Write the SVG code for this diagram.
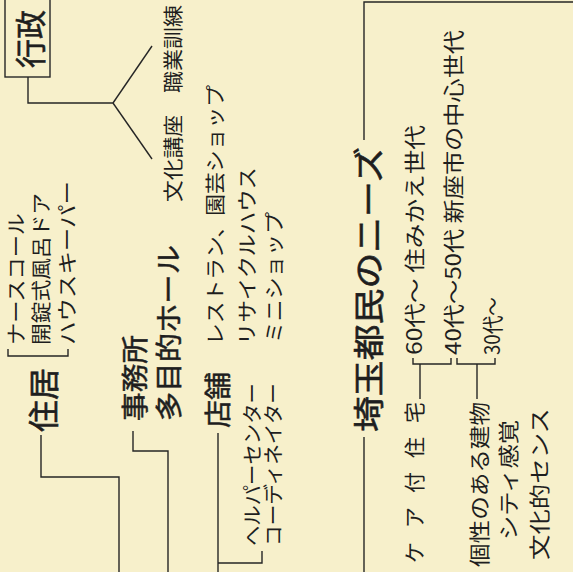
<svg xmlns="http://www.w3.org/2000/svg" width="573" height="572" viewBox="0 0 573 572">
<style>
text{font-family:"Noto Sans CJK JP","Noto Sans CJK SC",sans-serif;fill:#1e1e1e;dominant-baseline:central}
.s{font-size:20px}
.m{font-size:21px}
.b{font-size:27px;stroke:#1e1e1e;stroke-width:0.5}
.xl{font-size:31px;stroke:#1e1e1e;stroke-width:0.6}
.ln{fill:none;stroke:#262626;stroke-width:1.4}
</style>
<rect x="0" y="0" width="573" height="572" fill="#f7f0cb"/>
<g id="connectors" class="ln">
<path d="M28,77 V103 H113"/>
<path d="M113,103 L152,46"/>
<path d="M113,103 L152,159"/>
<path d="M8,349 V356 H68 V349"/>
<path d="M41,435 V477 H119 V572"/>
<path d="M133,431 V451 H168 V572"/>
<path d="M218,433 V572"/>
<path d="M218,563 H262 V551"/>
<path d="M364,140 V2 H573"/>
<path d="M364,437 V572"/>
<path d="M413,358 V364 H451 V358"/>
<path d="M420,364 V399"/>
<path d="M457,358 V364 H495 V358"/>
<path d="M477,364 V399"/>
</g>
<g id="gyousei">
<rect class="ln" x="5" y="-2" width="45" height="79"/>
<text class="xl" transform="translate(28,68) rotate(-90)" textLength="58" lengthAdjust="spacingAndGlyphs">行政</text>
</g>
<g id="shokugyou"><text class="s" transform="translate(172,93) rotate(-90)" textLength="88" lengthAdjust="spacingAndGlyphs">職業訓練</text></g>
<g id="bunka"><text class="s" transform="translate(172,202) rotate(-90)" textLength="87" lengthAdjust="spacingAndGlyphs">文化講座</text></g>
<g id="jukyo-items">
<text class="s" transform="translate(15,345) rotate(-90)" textLength="132" lengthAdjust="spacingAndGlyphs">ナースコール</text>
<text class="s" transform="translate(40,345) rotate(-90)" textLength="152" lengthAdjust="spacingAndGlyphs">開錠式風呂ドア</text>
<text class="s" transform="translate(66,345) rotate(-90)" textLength="164" lengthAdjust="spacingAndGlyphs">ハウスキーパー</text>
</g>
<g id="jukyo"><text class="xl" transform="translate(41,432) rotate(-90)" textLength="64" lengthAdjust="spacingAndGlyphs">住居</text></g>
<g id="jimusho"><text class="b" transform="translate(133,421) rotate(-90)" textLength="86" lengthAdjust="spacingAndGlyphs">事務所</text></g>
<g id="hall"><text class="b" transform="translate(167,421) rotate(-90)" textLength="176" lengthAdjust="spacingAndGlyphs">多目的ホール</text></g>
<g id="tenpo">
<text class="b" transform="translate(216,428) rotate(-90)" textLength="56" lengthAdjust="spacingAndGlyphs">店舗</text>
<text class="s" transform="translate(214,345) rotate(-90)" textLength="260" lengthAdjust="spacingAndGlyphs">レストラン、園芸ショップ</text>
<text class="s" transform="translate(246,345) rotate(-90)" textLength="178" lengthAdjust="spacingAndGlyphs">リサイクルハウス</text>
<text class="s" transform="translate(273,343) rotate(-90)" textLength="131" lengthAdjust="spacingAndGlyphs">ミニショップ</text>
</g>
<g id="helper">
<text class="s" transform="translate(251,546) rotate(-90)" textLength="163" lengthAdjust="spacingAndGlyphs">ヘルパーセンター</text>
<text class="s" transform="translate(272,546) rotate(-90)" textLength="163" lengthAdjust="spacingAndGlyphs">コーディネイター</text>
</g>
<g id="needs"><text class="xl" transform="translate(366,432) rotate(-90)" textLength="285" lengthAdjust="spacingAndGlyphs">埼玉都民のニーズ</text></g>
<g id="age60"><text class="m" transform="translate(413,355) rotate(-90)" textLength="230" lengthAdjust="spacingAndGlyphs">60代〜 住みかえ世代</text></g>
<g id="age40"><text class="m" transform="translate(452,355) rotate(-90)" textLength="325" lengthAdjust="spacingAndGlyphs">40代〜50代 新座市の中心世代</text></g>
<g id="age30"><text class="m" transform="translate(491,355) rotate(-90)" textLength="58" lengthAdjust="spacingAndGlyphs">30代〜</text></g>
<g id="care"><text class="m" transform="translate(413,563) rotate(-90)" textLength="161" lengthAdjust="spacing">ケア付住宅</text></g>
<g id="kosei"><text class="m" transform="translate(478,567) rotate(-90)" textLength="165" lengthAdjust="spacingAndGlyphs">個性のある建物</text></g>
<g id="city"><text class="m" transform="translate(507,540) rotate(-90)" textLength="120" lengthAdjust="spacingAndGlyphs">シティ感覚</text></g>
<g id="culture"><text class="m" transform="translate(538,560) rotate(-90)" textLength="152" lengthAdjust="spacingAndGlyphs">文化的センス</text></g>
</svg>
